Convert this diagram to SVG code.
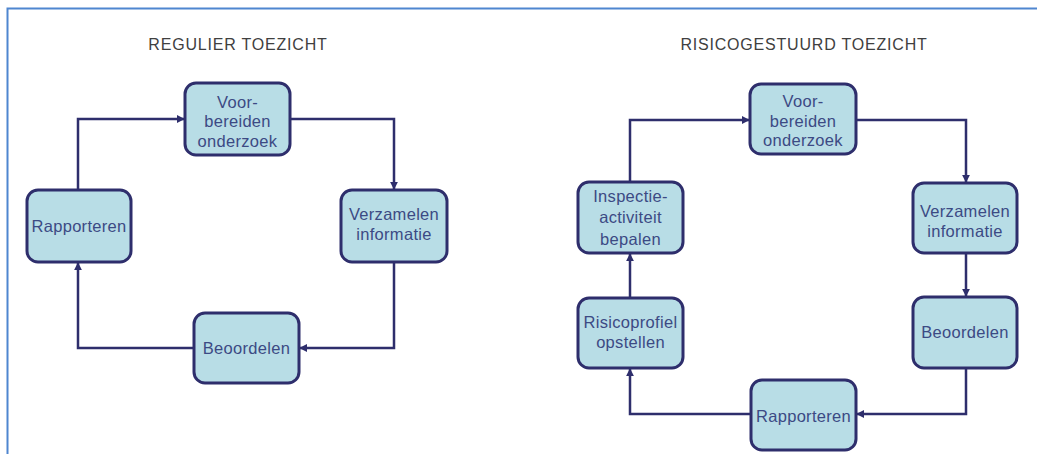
<svg xmlns="http://www.w3.org/2000/svg" width="1037" height="454" viewBox="0 0 1037 454">
<style>
.bg{fill:#ffffff}
.frame{stroke:#4f86d0;stroke-width:2;fill:none}
.title{font-family:"Liberation Sans",Arial,sans-serif;font-size:16px;fill:#404040;letter-spacing:0.8px;text-anchor:middle}
.node rect{fill:#b8dde6;stroke:#2e2e6c;stroke-width:3}
.node text{font-family:"Liberation Sans",Arial,sans-serif;font-size:16.5px;fill:#3c4a84;text-anchor:middle;letter-spacing:0.3px}
.conn path{fill:none;stroke:#2e2e6c;stroke-width:2.5;marker-end:url(#ah)}
</style>
<defs>
<marker id="ah" viewBox="0 0 10 10" refX="9" refY="5" markerWidth="3.2" markerHeight="3.2" orient="auto" markerUnits="strokeWidth">
<path d="M0,0 L10,5 L0,10 z" fill="#2e2e6c"/>
</marker>
</defs>
<rect class="bg" x="0" y="0" width="1037" height="454"/>
<path class="frame" d="M7.5,454 V8.5 H1037"/>

<text class="title" x="238" y="50">REGULIER TOEZICHT</text>
<text class="title" x="804" y="50">RISICOGESTUURD TOEZICHT</text>

<g id="connectors" class="conn">
<path d="M78,190 V119 H184"/>
<path d="M290,119 H394 V189"/>
<path d="M394,262 V348 H300"/>
<path d="M194,348 H78 V263"/>
<path d="M630,182 V120 H749"/>
<path d="M856,120 H966 V182"/>
<path d="M966,253 V296"/>
<path d="M966,368 V414 H857"/>
<path d="M751,414 H630 V369"/>
<path d="M630,298 V254"/>
</g>

<g id="l-voorbereiden" class="node">
<rect x="185" y="83" width="105" height="72" rx="11"/>
<text x="237.5" y="108">Voor-</text>
<text x="237.5" y="127">bereiden</text>
<text x="237.5" y="147">onderzoek</text>
</g>
<g id="l-verzamelen" class="node">
<rect x="341" y="190" width="106" height="72" rx="11"/>
<text x="394" y="220">Verzamelen</text>
<text x="394" y="240">informatie</text>
</g>
<g id="l-beoordelen" class="node">
<rect x="194" y="313" width="105" height="70" rx="11"/>
<text x="246.5" y="354">Beoordelen</text>
</g>
<g id="l-rapporteren" class="node">
<rect x="27" y="190" width="104" height="72" rx="11"/>
<text x="79" y="232">Rapporteren</text>
</g>

<g id="r-voorbereiden" class="node">
<rect x="750" y="84" width="106" height="70" rx="11"/>
<text x="803" y="107">Voor-</text>
<text x="803" y="127">bereiden</text>
<text x="803" y="146">onderzoek</text>
</g>
<g id="r-verzamelen" class="node">
<rect x="913" y="183" width="104" height="70" rx="11"/>
<text x="965" y="217">Verzamelen</text>
<text x="965" y="237">informatie</text>
</g>
<g id="r-beoordelen" class="node">
<rect x="913" y="297" width="104" height="71" rx="11"/>
<text x="965" y="338">Beoordelen</text>
</g>
<g id="r-rapporteren" class="node">
<rect x="751" y="380" width="105" height="70" rx="11"/>
<text x="803.5" y="422">Rapporteren</text>
</g>
<g id="r-risicoprofiel" class="node">
<rect x="578" y="298" width="105" height="70" rx="11"/>
<text x="630.5" y="328">Risicoprofiel</text>
<text x="630.5" y="348">opstellen</text>
</g>
<g id="r-inspectie" class="node">
<rect x="578" y="182" width="105" height="71" rx="11"/>
<text x="630.5" y="202">Inspectie-</text>
<text x="630.5" y="223">activiteit</text>
<text x="630.5" y="245">bepalen</text>
</g>
</svg>
